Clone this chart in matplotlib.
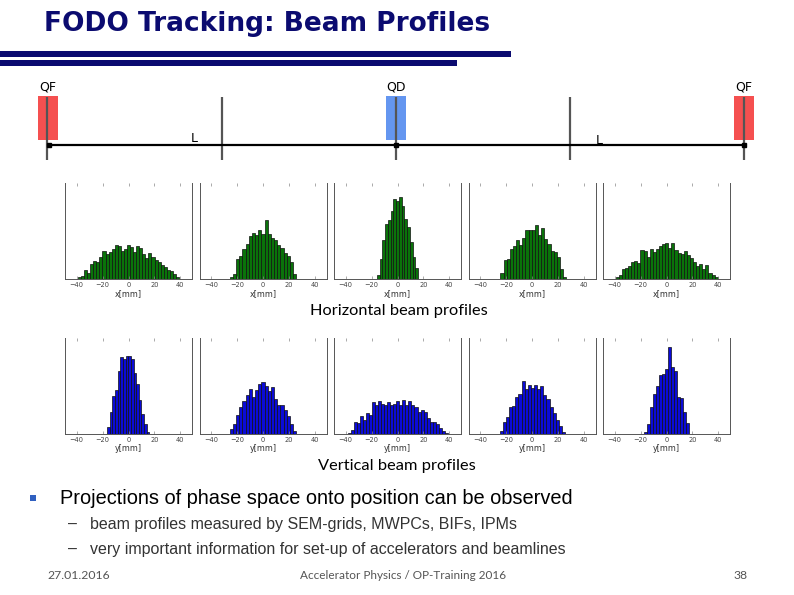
import numpy as np
import matplotlib
matplotlib.use('Agg')
import matplotlib.pyplot as plt
from matplotlib.patches import Rectangle

# histogram data (bar heights, common count scale)
x1 = [5, 10, 27, 19, 45, 54, 52, 65, 84, 75, 82, 92, 104, 100, 84, 92, 104,
      97, 82, 99, 95, 77, 62, 79, 67, 57, 52, 42, 35, 27, 25, 14, 7]
x2 = [5, 14, 60, 69, 92, 105, 129, 139, 134, 149, 137, 177, 137, 125, 119,
      104, 95, 79, 69, 52, 14]
x3 = [12, 59, 117, 167, 179, 205, 242, 237, 249, 222, 182, 157, 112, 67, 32]
x4 = [19, 57, 60, 92, 99, 117, 102, 125, 149, 147, 149, 162, 132, 155, 122,
      105, 85, 82, 65, 29, 7]
x5 = [7, 12, 29, 32, 39, 52, 55, 49, 87, 84, 65, 92, 82, 92, 99, 107, 109, 94,
      109, 87, 79, 75, 85, 72, 62, 52, 39, 45, 29, 42, 19, 12, 5]
y1 = [22, 65, 115, 132, 189, 232, 227, 237, 235, 227, 185, 152, 102, 59, 29, 7]
y2 = [15, 29, 57, 82, 99, 117, 135, 112, 132, 152, 157, 145, 129, 142, 107,
      89, 87, 72, 55, 29, 9]
y3 = [2, 12, 35, 32, 55, 42, 62, 57, 97, 87, 99, 92, 89, 97, 87, 92, 99, 89,
      102, 87, 101, 87, 82, 65, 72, 65, 47, 35, 35, 29, 19, 9, 4]
y4 = [9, 37, 52, 82, 85, 112, 122, 159, 137, 147, 139, 149, 135, 145, 119,
      105, 82, 62, 42, 25, 7]
y5 = [7, 29, 82, 122, 145, 177, 182, 197, 262, 202, 189, 112, 109, 65, 32]

# histogram ranges in mm
x_ranges = [(-39, 39), (-25.6, 25.6), (-15.9, 15.9), (-24.4, 26.4), (-39.2, 39.5)]
y_ranges = [(-16.7, 16.2), (-25.6, 25.6), (-38.5, 38.9), (-24.9, 25.6), (-17.4, 17.2)]

W, H = 794, 595
fig = plt.figure(figsize=(W / 100, H / 100), dpi=100)
fig.patch.set_facecolor('white')

# overlay axes in pixel coordinates for the slide elements
ov = fig.add_axes([0, 0, 1, 1])
ov.set_xlim(0, W)
ov.set_ylim(H, 0)
ov.axis('off')

navy = '#0b0b70'
ov.text(44, 31, 'FODO Tracking: Beam Profiles', fontsize=19, fontweight='bold',
        color=navy, family='DejaVu Sans', va='baseline', ha='left')
ov.add_patch(Rectangle((0, 50.5), 511, 6, color=navy, lw=0))
ov.add_patch(Rectangle((0, 60), 457, 5.7, color=navy, lw=0))

# FODO cell sketch
red = '#f55050'
blue = '#6496f0'
ov.add_patch(Rectangle((37.7, 96), 20, 44, color=red, lw=0))
ov.add_patch(Rectangle((386, 96), 20, 44, color=blue, lw=0))
ov.add_patch(Rectangle((734, 96), 20, 44, color=red, lw=0))
for xp in [47.3, 222, 396, 569.5, 744]:
    ov.plot([xp, xp], [97, 160], color='#555555', lw=1.6, solid_capstyle='butt')
ov.plot([49, 744], [145, 145], color='black', lw=1.6)
ov.plot([49, 396, 744], [145, 145, 145], 's', color='black', ms=2.5)
for xp, name in [(48, 'QF'), (396, 'QD'), (744, 'QF')]:
    ov.text(xp, 91, name, fontsize=9, ha='center', va='baseline', color='black')
ov.text(194.5, 142, 'L', fontsize=9, ha='center', va='baseline', color='black')
ov.text(599.5, 144, 'L', fontsize=9, ha='center', va='baseline', color='black')

ov.text(398.5, 315, 'Horizontal beam profiles', fontsize=11.8, family='Lato',
        ha='center', va='baseline', color='black')
ov.text(397, 470, 'Vertical beam profiles', fontsize=11.8, family='Lato',
        ha='center', va='baseline', color='black')

# bullet text
ov.add_patch(Rectangle((30, 495), 6, 6, color='#3060c0', lw=0))
ov.text(60, 504, 'Projections of phase space onto position can be observed',
        fontsize=14.4, family='Liberation Sans', va='baseline', color='black')
for yb, txt in [(529, 'beam profiles measured by SEM-grids, MWPCs, BIFs, IPMs'),
                (554, 'very important information for set-up of accelerators and beamlines')]:
    ov.text(68, yb, '–', fontsize=11.5, family='Liberation Sans', va='baseline', color='#333333')
    ov.text(90, yb, txt, fontsize=11.5, family='Liberation Sans', va='baseline', color='#333333')

ov.text(47, 579, '27.01.2016', fontsize=8.8, family='Lato', va='baseline', color='#555555')
ov.text(403, 579, 'Accelerator Physics / OP-Training 2016', fontsize=8.5, family='Lato',
        ha='center', va='baseline', color='#555555')
ov.text(741, 579, '38', fontsize=8.8, family='Lato', ha='center', va='baseline', color='#555555')


def panel(left_px, bottom_px, heights, rng, face, label):
    ax = fig.add_axes([left_px / W, 1 - bottom_px / H, 127 / W, 96 / H])
    edges = np.linspace(rng[0], rng[1], len(heights) + 1)
    ax.bar(edges[:-1], heights, width=np.diff(edges), align='edge',
           color=face, edgecolor='#111111', linewidth=0.5)
    ax.set_xlim(-49, 49)
    ax.set_ylim(0, 290)
    ax.set_yticks([])
    ax.set_xticks([-40, -20, 0, 20, 40])
    ax.tick_params(axis='x', direction='in', top=True, length=2, width=0.5,
                   labelsize=4.8, labelcolor='#444444', color='#888888', pad=2)
    ax.spines['top'].set_visible(False)
    for s in ['left', 'right', 'bottom']:
        ax.spines[s].set_color('#555555')
        ax.spines[s].set_linewidth(0.7)
    ax.set_xlabel(label, fontsize=5.8, color='#333333', labelpad=1)
    return ax


lefts = [65, 199.5, 334, 468.5, 603]
for i, (h, r) in enumerate(zip([x1, x2, x3, x4, x5], x_ranges)):
    panel(lefts[i], 279, h, r, '#0a730a', 'x[mm]')
for i, (h, r) in enumerate(zip([y1, y2, y3, y4, y5], y_ranges)):
    panel(lefts[i], 434, h, r, '#0b0bd6', 'y[mm]')

fig.savefig('out.png', dpi=100)
